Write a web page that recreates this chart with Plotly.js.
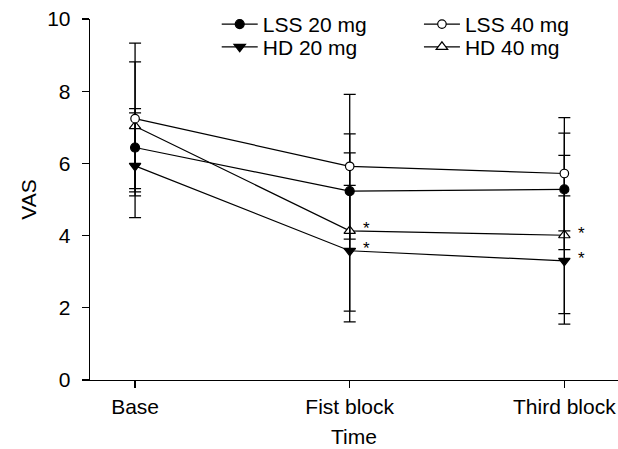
<!DOCTYPE html>
<html>
<head>
<meta charset="utf-8">
<script src="https://cdn.plot.ly/plotly-3.0.1.min.js"></script>
<style>html,body{margin:0;padding:0;background:#fff;}#chart{width:618px;height:449px;}</style>
</head>
<body>
<div id="chart"></div>
<script>
// Data
const categories = ['Base', 'Fist block', 'Third block'];
const catIndex = [0, 1, 2];

const lss20 = [6.44, 5.23, 5.28];
const lss20Plus = [1.08, 1.59, 1.56];
const lss20Minus = [1.14, 1.59, 1.67];

const lss40 = [7.24, 5.92, 5.72];
const lss40Plus = [2.09, 1.99, 1.55];
const lss40Minus = [2.14, 2.02, 1.59];

const hd20 = [5.93, 3.58, 3.30];
const hd20Plus = [1.47, 1.81, 1.80];
const hd20Minus = [1.43, 1.97, 1.75];

const hd40 = [7.03, 4.13, 4.01];
const hd40Plus = [1.78, 2.16, 2.21];
const hd40Minus = [1.82, 2.22, 2.17];

// indices of points marked as significant (*)
const sigHD20 = [1, 2];
const sigHD40 = [1, 2];

const FONT = 'Liberation Sans, Arial, Helvetica, sans-serif';

function mk(name, y, plus, minus, symbol, fill, size, legendId) {
  return {
    type: 'scatter', mode: 'lines+markers', name: name,
    x: catIndex, y: y,
    line: {color: '#000', width: 1.2},
    marker: {symbol: symbol, color: fill, size: size, line: {color: '#000', width: 1.2}},
    error_y: {type: 'data', symmetric: false, array: plus, arrayminus: minus,
              color: '#000', thickness: 1.3, width: 6},
    legend: legendId,
    cliponaxis: false
  };
}

const traces = [
  mk('HD 40 mg', hd40, hd40Plus, hd40Minus, 'triangle-up', '#fff', 10, 'legend4'),
  mk('HD 20 mg', hd20, hd20Plus, hd20Minus, 'triangle-down', '#000', 10, 'legend3'),
  mk('LSS 20 mg', lss20, lss20Plus, lss20Minus, 'circle', '#000', 9, 'legend'),
  mk('LSS 40 mg', lss40, lss40Plus, lss40Minus, 'circle', '#fff', 8.5, 'legend2')
];

const annotations = [];
sigHD40.forEach(i => annotations.push({x: i, y: hd40[i], xref: 'x', yref: 'y', text: '*',
  showarrow: false, xshift: 17, yshift: 2, font: {family: FONT, size: 17, color: '#000'}}));
sigHD20.forEach(i => annotations.push({x: i, y: hd20[i], xref: 'x', yref: 'y', text: '*',
  showarrow: false, xshift: 17, yshift: 2, font: {family: FONT, size: 17, color: '#000'}}));

function leg(x, y) {
  return {x: x, y: y, xref: 'paper', yref: 'paper', xanchor: 'left', yanchor: 'middle',
          itemwidth: 36,
          bgcolor: 'rgba(0,0,0,0)', borderwidth: 0, font: {family: FONT, size: 21, color: '#000'}};
}

const layout = {
  width: 618, height: 449,
  margin: {l: 90, r: 0, t: 18.5, b: 68.5},
  paper_bgcolor: '#fff', plot_bgcolor: '#fff',
  font: {family: FONT, size: 21, color: '#000'},
  showlegend: true,
  legend: leg(0.240, 0.985),
  legend2: leg(0.623, 0.985),
  legend3: leg(0.240, 0.922),
  legend4: leg(0.623, 0.922),
  xaxis: {
    range: [-0.21, 2.25], tickvals: catIndex, ticktext: categories,
    showline: true, linecolor: '#000', linewidth: 1.3, mirror: false,
    ticks: 'outside', ticklen: 7, tickwidth: 1.2, tickcolor: '#000',
    showgrid: false, zeroline: false, ticklabelstandoff: 0,
    tickfont: {family: FONT, size: 21},
    title: {text: 'Time', font: {family: FONT, size: 21}, standoff: 12}
  },
  yaxis: {
    range: [0, 10], tickvals: [0, 2, 4, 6, 8, 10],
    showline: true, linecolor: '#000', linewidth: 1.3,
    ticks: 'outside', ticklen: 7, tickwidth: 1.2, tickcolor: '#000',
    showgrid: false, zeroline: false, ticklabelstandoff: 7,
    tickfont: {family: FONT, size: 21},
    title: {text: 'VAS', font: {family: FONT, size: 21}, standoff: 4}
  },
  annotations: annotations
};

Plotly.newPlot('chart', traces, layout, {staticPlot: true, displayModeBar: false});
</script>
</body>
</html>
